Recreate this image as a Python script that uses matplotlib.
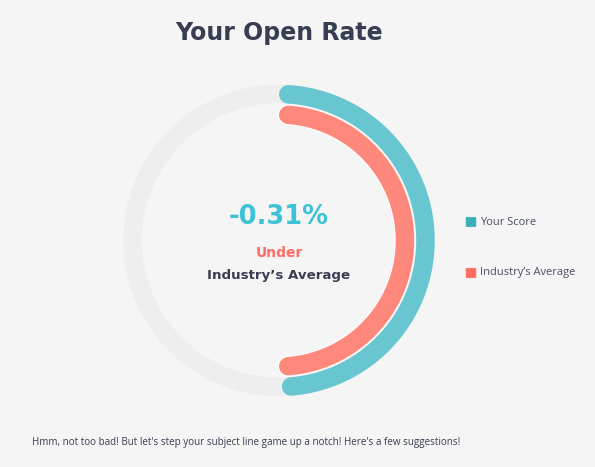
import numpy as np
import matplotlib
matplotlib.use("Agg")
import matplotlib.pyplot as plt
import matplotlib.patheffects as pe
from matplotlib.patches import FancyBboxPatch

# Open rate values, as percent of the full circle
series_names = ["Your Score", "Industry\u2019s Average"]
series_values = [49.69, 50.00]
ring_colors = ["#68c6d1", "#ff887c"]
legend_colors = ["#3aaeb8", "#ff6b5c"]
difference = series_values[0] - series_values[1]

W, H, DPI = 595, 467, 100
BG = "#f5f5f5"
DARK = "#383e52"

fig = plt.figure(figsize=(W / DPI, H / DPI), dpi=DPI, facecolor=BG)

# polar axes centred on the ring
cx, cy, S = 279, 240.5, 160
ax = fig.add_axes([(cx - S) / W, (H - cy - S) / H, 2 * S / W, 2 * S / H],
                  projection="polar")
ax.set_theta_zero_location("N")
ax.set_theta_direction(-1)
ax.set_ylim(0, 1)
ax.set_axis_off()
ax.patch.set_alpha(0)

ring_width_px = 18.5
lw = ring_width_px * 72 / DPI
radii_px = [146.5, 126.0]

# grey track
theta = np.linspace(0, 2 * np.pi, 400)
ax.plot(theta, np.full_like(theta, radii_px[0] / S), color="#eeeeee",
        lw=lw, solid_capstyle="butt", zorder=1)

for i, (val, col, rp) in enumerate(zip(series_values, ring_colors, radii_px)):
    span = val / 100 * 2 * np.pi
    cap = (ring_width_px / 2) / rp  # keep the rounded caps inside the span
    t = np.linspace(cap, span - cap, 300)
    effects = [pe.Stroke(linewidth=lw + 1.5, foreground="white"), pe.Normal()] if i == 1 else None
    ax.plot(t, np.full_like(t, rp / S), color=col, lw=lw,
            solid_capstyle="round", zorder=3 - i, path_effects=effects)


def px(x, y):
    return x / W, 1 - y / H


fig.text(*px(279, 33), "Your Open Rate", ha="center", va="center",
         fontsize=17, fontweight="bold", color=DARK, family="DejaVu Sans")

fig.text(*px(279, 217), f"{difference:.2f}%", ha="center", va="center",
         fontsize=18.5, fontweight="bold", color="#3dc2d6", family="DejaVu Sans")
fig.text(*px(279, 253), "Under", ha="center", va="center",
         fontsize=10, fontweight="bold", color="#ff6d66", family="DejaVu Sans")
fig.text(*px(279, 276), "Industry\u2019s Average", ha="center", va="center",
         fontsize=9.6, fontweight="bold", color=DARK, family="DejaVu Sans")

# legend
for (name, col, ly) in zip(series_names, legend_colors, [222, 273]):
    x0, y0 = px(467, ly + 4)
    fig.patches.append(FancyBboxPatch((x0, y0), 8 / W, 8 / H,
                                      boxstyle="round,pad=0.0015",
                                      transform=fig.transFigure, facecolor=col,
                                      edgecolor=col, lw=0.5))
    fig.text(*px(480, ly), name, ha="left", va="center", fontsize=8,
             color="#4a4f63", family="Open Sans")

fig.text(*px(32, 442), "Hmm, not too bad! But let's step your subject line game up a notch! Here's a few suggestions!",
         ha="left", va="center", fontsize=7.1, color=DARK, family="Open Sans")

fig.savefig("out.png", dpi=DPI, facecolor=BG)
